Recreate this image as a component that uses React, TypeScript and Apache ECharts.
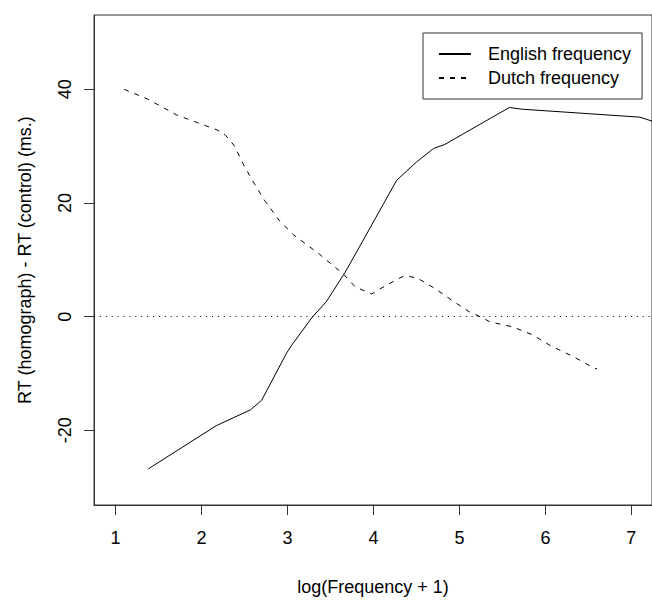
import React, { useEffect, useRef } from "react";
import * as echarts from "echarts";

const englishX = [1.38, 2.17, 2.57, 2.7, 2.99, 3.05, 3.29, 3.45, 3.67, 3.79, 4.27, 4.5, 4.7, 4.83, 5.58, 5.73, 7.1, 7.24];
const englishY = [-26.8, -19.2, -16.4, -14.7, -6.4, -5.0, -0.05, 2.6, 7.8, 11.0, 24.0, 27.2, 29.6, 30.3, 36.8, 36.5, 35.1, 34.4];

const dutchX = [1.1, 1.37, 1.71, 1.94, 2.19, 2.28, 2.38, 2.49, 2.61, 2.74, 2.91, 3.07, 3.37, 3.65, 3.79, 3.98, 4.17, 4.36, 4.51, 4.72, 4.89, 5.12, 5.27, 5.35, 5.62, 5.85, 6.07, 6.32, 6.57, 6.6];
const dutchY = [40.0, 38.3, 35.5, 34.2, 32.8, 31.9, 30.1, 26.7, 23.5, 20.3, 16.8, 14.4, 11.0, 7.5, 5.2, 4.0, 5.7, 7.2, 6.8, 4.9, 3.1, 0.8, -0.2, -0.9, -1.8, -3.2, -5.2, -7.0, -9.1, -9.2];

const xTicks = [1, 2, 3, 4, 5, 6, 7];
const yTicks = [-20, 0, 20, 40];

const seriesNames = ["English frequency", "Dutch frequency"];
const xTitle = "log(Frequency + 1)";
const yTitle = "RT (homograph) - RT (control) (ms.)";

const FONT = "Liberation Sans, Arial, Helvetica, sans-serif";
const INK = "#000";
const AXIS = "#333";
const NONE = "rgba(0,0,0,0)";

export default function App() {
  const ref = useRef<HTMLDivElement>(null);
  useEffect(() => {
    if (!ref.current) return;
    const chart = echarts.init(ref.current, undefined, { renderer: "svg" });
    const zip = (xs: number[], ys: number[]) => xs.map((x, i) => [x, ys[i]]);
    chart.setOption({
      animation: false,
      backgroundColor: "#fff",
      textStyle: { fontFamily: FONT },
      grid: {
        left: 94,
        top: 15,
        right: -10,
        bottom: 91,
        show: true,
        borderColor: AXIS,
        borderWidth: 1,
        containLabel: false,
      },
      legend: {
        orient: "vertical",
        left: 423,
        top: 33,
        padding: [12, 11, 12, 15],
        itemWidth: 32,
        itemHeight: 14,
        itemGap: 6,
        backgroundColor: "#fff",
        borderColor: AXIS,
        borderWidth: 1,
        borderRadius: 0,
        itemStyle: { color: NONE, borderWidth: 0, opacity: 0 },
        textStyle: { fontFamily: FONT, fontSize: 18, color: INK, padding: [0, 0, 0, 12] },
        data: seriesNames,
      },
      xAxis: {
        type: "value",
        min: 0.749,
        max: 7.24,
        name: xTitle,
        nameLocation: "middle",
        nameGap: 73,
        nameTextStyle: { fontFamily: FONT, fontSize: 18, color: INK },
        axisLine: { show: true, onZero: false, lineStyle: { color: AXIS, width: 1 } },
        axisTick: { show: true, length: 10, inside: false, customValues: xTicks, lineStyle: { color: AXIS } },
        axisLabel: { show: true, customValues: xTicks, margin: 24, fontFamily: FONT, fontSize: 18, color: INK },
        splitLine: { show: false },
      },
      yAxis: {
        type: "value",
        min: -33.15,
        max: 53.08,
        name: yTitle,
        nameLocation: "middle",
        nameGap: 60,
        nameRotate: 90,
        nameTextStyle: { fontFamily: FONT, fontSize: 18, color: INK },
        axisLine: { show: true, onZero: false, lineStyle: { color: AXIS, width: 1 } },
        axisTick: { show: true, length: 10, inside: false, customValues: yTicks, lineStyle: { color: AXIS } },
        axisLabel: { show: true, customValues: yTicks, rotate: 90, margin: 20, fontFamily: FONT, fontSize: 18, color: INK },
        splitLine: { show: false },
      },
      series: [
        {
          name: seriesNames[0],
          type: "line",
          data: zip(englishX, englishY),
          showSymbol: false,
          symbol: "none",
          lineStyle: { color: INK, width: 1, type: "solid" },
          itemStyle: { color: NONE },
          markLine: {
            silent: true,
            symbol: ["none", "none"],
            label: { show: false },
            lineStyle: { color: INK, width: 1, type: [1, 4.9] },
            data: [{ yAxis: 0 }],
          },
        },
        {
          name: seriesNames[1],
          type: "line",
          data: zip(dutchX, dutchY),
          showSymbol: false,
          symbol: "none",
          lineStyle: { color: INK, width: 1, type: [5, 6] },
          itemStyle: { color: NONE },
        },
      ],
    });
    return () => chart.dispose();
  }, []);
  return (
    <div
      ref={ref}
      style={{ position: "absolute", left: 0, top: 0, width: 652, height: 601 }}
    />
  );
}
